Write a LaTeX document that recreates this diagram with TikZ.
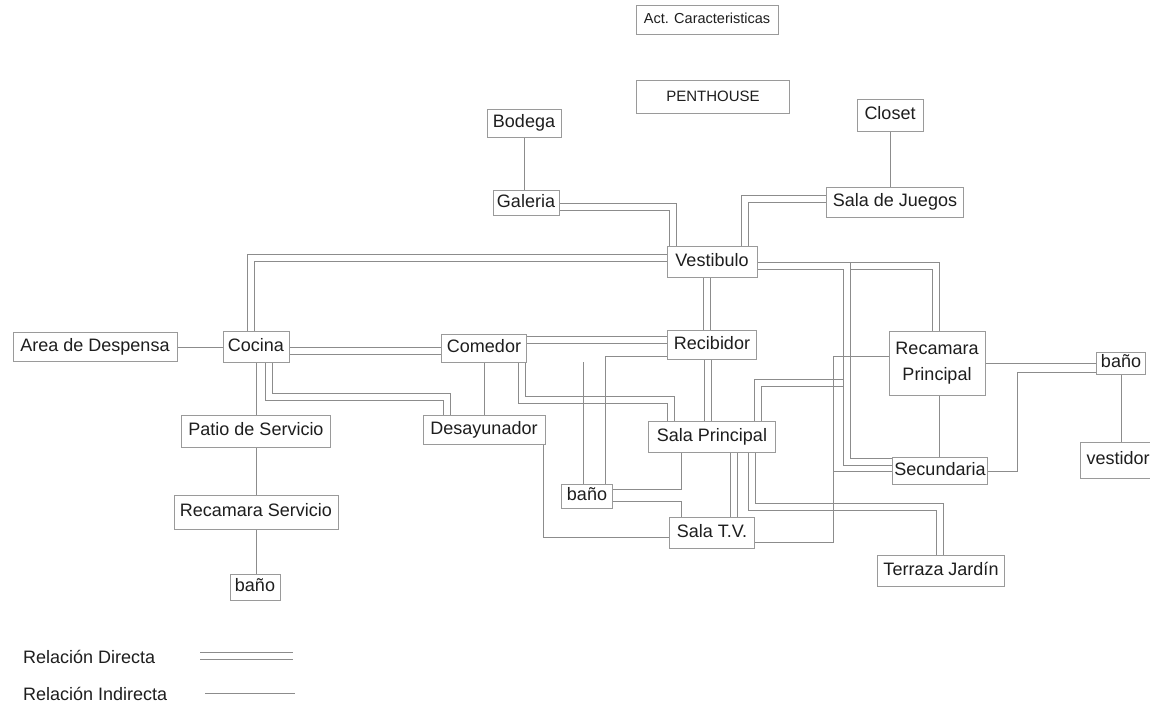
\documentclass[tikz,border=0pt]{standalone}
\usepackage{fontspec}
\setmainfont{Liberation Sans}
\pgfdeclarelayer{background}
\pgfsetlayers{background,main}
\definecolor{boxgray}{HTML}{9A9A9A}
\definecolor{linegray}{HTML}{8C8C8C}
\definecolor{txt}{HTML}{1E1E1E}
\tikzset{
  room/.style={draw=boxgray, line width=0.8pt, fill=white, inner sep=0pt,
    minimum height=30pt, text=txt, font=\fontsize{18}{20}\selectfont,
    text height=13pt, text depth=4pt},
  roomtwo/.style={draw=boxgray, line width=0.8pt, fill=white, inner sep=0pt,
    text=txt, font=\fontsize{18}{26}\selectfont, align=center},
  sgl/.style={draw=linegray, line width=0.8pt},
  dbl/.style={draw=linegray, line width=1pt, double=white, double distance=6pt},
  legendtext/.style={text=txt, font=\fontsize{18}{20}\selectfont, inner sep=0pt, anchor=base west},
}
\begin{document}
\begin{tikzpicture}[x=1pt,y=-1pt]
\useasboundingbox (0,0) rectangle (1150,702);
% titles
\node[room, minimum width=142pt, minimum height=29pt, font=\fontsize{14.5}{16}\selectfont, text height=10.5pt, text depth=3pt] (act) at (707,20) {Act. Caracteristicas};
\node[room, minimum width=153pt, minimum height=33pt, font=\fontsize{15}{17}\selectfont, text height=11pt, text depth=3pt] (pent) at (713,97) {PENTHOUSE};
% rooms
\node[room, minimum width=74pt, minimum height=28pt] (bodega) at (524,123) {Bodega};
\node[room, minimum width=66pt, minimum height=25pt] (galeria) at (526,203) {Galeria};
\node[room, minimum width=66pt, minimum height=32pt] (closet) at (890,115) {Closet};
\node[room, minimum width=137pt] (juegos) at (895,202) {Sala de Juegos};
\node[room, minimum width=90pt, minimum height=31pt] (vest) at (712,262) {Vestibulo};
\node[room, minimum width=164pt, minimum height=29pt] (despensa) at (95,347) {Area de Despensa};
\node[room, minimum width=66pt, minimum height=31pt] (cocina) at (256,347) {Cocina};
\node[room, minimum width=85pt, minimum height=28pt] (comedor) at (484,348) {Comedor};
\node[room, minimum width=89pt, minimum height=29pt] (recib) at (712,345) {Recibidor};
\node[room, minimum width=122pt, minimum height=29pt] (desay) at (484,430) {Desayunador};
\node[room, minimum width=127pt, minimum height=31pt] (salap) at (712,437) {Sala Principal};
\node[roomtwo, minimum width=96pt, minimum height=64pt] (recp) at (937,363) {Recamara\\Principal};
\node[room, minimum width=49pt, minimum height=22pt] (banor) at (1121,363) {baño};
\node[room, minimum width=76pt, minimum height=36pt] (vestidor) at (1118,460) {vestidor};
\node[room, minimum width=95pt, minimum height=27pt] (secund) at (940,471) {Secundaria};
\node[room, minimum width=149pt, minimum height=32pt] (patio) at (256,431) {Patio de Servicio};
\node[room, minimum width=164pt, minimum height=34pt] (recs) at (256,512) {Recamara Servicio};
\node[room, minimum width=50pt, minimum height=26pt] (banol) at (255,587) {baño};
\node[room, minimum width=51pt, minimum height=24pt] (banom) at (587,496) {baño};
\node[room, minimum width=85pt, minimum height=31pt] (salatv) at (712,533) {Sala T.V.};
\node[room, minimum width=127pt, minimum height=31pt] (terraza) at (941,571) {Terraza Jardín};
% legend
\node[legendtext] (legd) at (23,663) {Relación Directa};
\node[legendtext] (legi) at (23,700) {Relación Indirecta};
\coordinate (ld1) at (200,656);
\coordinate (ld2) at (293,656);
\coordinate (li1) at (205,693);
\coordinate (li2) at (295,693);
\coordinate (j1) at (844,383);
\coordinate (c583) at (583,362);

\begin{pgfonlayer}{background}
% double (direct) relations
\draw[dbl] ([yshift=-4pt]galeria.east) -| ([xshift=-39pt]vest.north);
\draw[dbl] ([yshift=3pt]juegos.west) -| ([xshift=33pt]vest.north);
\draw[dbl] ([yshift=4pt]vest.west) -| ([xshift=-5pt]cocina.north);
\draw[dbl] ([xshift=-5pt]vest.south) -- ([xshift=-5pt]recib.north);
\draw[dbl] ([xshift=-4pt]recib.south) -- ([xshift=-4pt]salap.north);
\draw[dbl] ([yshift=-4pt]cocina.east) -- ([yshift=-4pt]cocina.east -| comedor.west);
\draw[dbl] ([xshift=13pt]cocina.south) |- ([xshift=-37pt,yshift=18.5pt]desay.north) -- ([xshift=-37pt]desay.north);
\draw[dbl] ([yshift=8pt]comedor.east) -- ([yshift=8pt]comedor.east -| recib.west);
\draw[dbl] ([xshift=38pt]comedor.south) |- ([xshift=-41pt,yshift=21.5pt]salap.north) -- ([xshift=-41pt]salap.north);
\draw[dbl] ([xshift=22pt]salap.south) -- ([xshift=22pt]salatv.north);
\draw[dbl] ([xshift=40pt]salap.south) |- ([xshift=-1pt,yshift=48.5pt]terraza.north) -- ([xshift=-1pt]terraza.north);
\draw[dbl] ([xshift=46pt]salap.north) |- (j1);
\draw[dbl] ([yshift=-4pt]vest.east) -| ([xshift=-1pt]recp.north);
\draw[dbl] ([yshift=-4pt]vest.east) -| ([xshift=-45.5pt,yshift=9pt]secund.west) -- ([yshift=9pt]secund.west);
% single (indirect) relations
\draw[sgl] (bodega.south) -- (bodega.south |- galeria.north);
\draw[sgl] (closet.south) -- (closet.south |- juegos.north);
\draw[sgl] (despensa.east) -- (cocina.west);
\draw[sgl] (cocina.south) -- (patio.north);
\draw[sgl] (patio.south) -- (recs.north);
\draw[sgl] (recs.south) -- (recs.south |- banol.north);
\draw[sgl] (comedor.south) -- (desay.north);
\draw[sgl] ([yshift=-11pt]recib.west) -| ([xshift=18pt]banom.north);
\draw[sgl] (c583) -- (c583 |- banom.north);
\draw[sgl] ([xshift=-31pt]salap.south) |- ([yshift=7pt]banom.east);
\draw[sgl] ([yshift=-5pt]banom.east) -| ([xshift=-31pt]salatv.north);
\draw[sgl] ([xshift=59pt]desay.south) |- ([yshift=-4pt]salatv.west);
\draw[sgl] ([yshift=-9pt]salatv.east) -| ([xshift=-55pt,yshift=7pt]recp.west) -- ([yshift=7pt]recp.west);
\draw[sgl] ([xshift=-58.5pt]secund.west) -- (secund.west);
\draw[sgl] (recp.east) -- (banor.west);
\draw[sgl] (secund.east) -| ([xshift=-78.5pt,yshift=-9pt]banor.west) -- ([yshift=-9pt]banor.west);
\draw[sgl] (banor.south) -- (banor.south |- vestidor.north);
\draw[sgl] ([xshift=2pt]recp.south) -- ([xshift=2pt]recp.south |- secund.north);
% legend lines
\draw[dbl] (ld1) -- (ld2);
\draw[sgl] (li1) -- (li2);
\end{pgfonlayer}
\end{tikzpicture}
\end{document}
